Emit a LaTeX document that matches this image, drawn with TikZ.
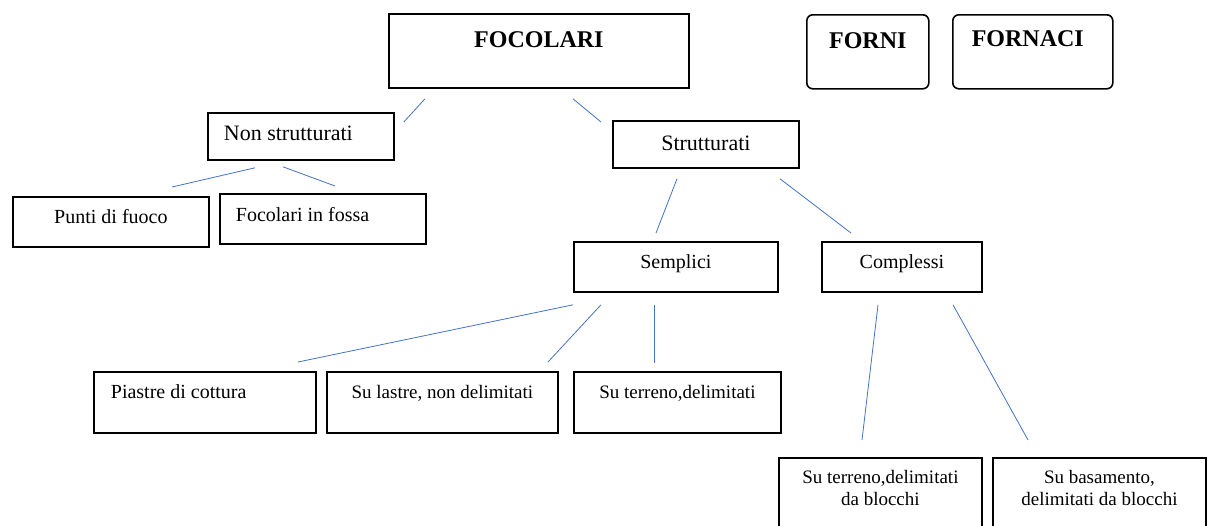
\documentclass[tikz,border=0pt]{standalone}
\usepackage{fontspec}
\setmainfont{Liberation Serif}
\usetikzlibrary{calc}
\definecolor{linkblue}{RGB}{68,114,196}
\tikzset{
  box/.style={draw, line width=1.8pt, inner ysep=0pt, anchor=north west, font=\fontsize{20}{24}\selectfont},
  topbox/.style={box, font=\fontsize{24}{28}\selectfont\bfseries},
  roundbox/.style={topbox, rounded corners=6pt, line width=1.6pt},
  link/.style={draw=linkblue, line width=0.8pt}
}

\begin{document}
\begin{tikzpicture}[x=1pt,y=-1pt]
\clip (0,0) rectangle (1215,525);
\node[topbox, minimum width=300pt, text height=34pt, text depth=40pt] (foc) at (388,13) {FOCOLARI};
\node[roundbox, minimum width=122pt, text height=34pt, text depth=40pt] (forni) at (806,14) {FORNI};
\node[roundbox, inner xsep=19pt, text width=122pt, align=flush left, text height=32pt, text depth=42pt] (fornaci) at (952,14) {FORNACI};
\node[box, font=\fontsize{22}{26}\selectfont, inner xsep=16pt, text width=154pt, align=flush left, text height=28pt, text depth=19pt] (non) at (207,112) {Non strutturati};
\node[box, font=\fontsize{22}{26}\selectfont, minimum width=186pt, text height=30pt, text depth=17pt] (strut) at (612,120) {Strutturati};
\node[box, minimum width=196pt, text height=27pt, text depth=23pt] (punti) at (12,196) {Punti di fuoco};
\node[box, inner xsep=16pt, text width=174pt, align=flush left, text height=28pt, text depth=22pt] (fossa) at (219,193) {Focolari in fossa};
\node[box, minimum width=204pt, text height=27pt, text depth=23pt] (sempl) at (573,241) {Semplici};
\node[box, minimum width=160pt, text height=27pt, text depth=23pt] (compl) at (821,241) {Complessi};
\node[box, inner xsep=17pt, text width=188pt, align=flush left, text height=27pt, text depth=34pt] (piastre) at (93,371) {Piastre di cottura};
\node[box, font=\fontsize{19}{22}\selectfont, minimum width=231pt, text height=27pt, text depth=34pt] (lastre) at (326,371) {Su lastre, non delimitati};
\node[box, font=\fontsize{19}{22}\selectfont, minimum width=207pt, text height=27pt, text depth=34pt] (terr) at (573,371) {Su terreno,delimitati};
\node[box, font=\fontsize{19}{22}\selectfont, minimum width=203pt, text height=26pt, text depth=100pt] (terrb) at (778,457)
  {\begin{tabular}[t]{@{}c@{}}Su terreno,delimitati\\da blocchi\end{tabular}};
\node[box, font=\fontsize{19}{22}\selectfont, minimum width=213pt, text height=26pt, text depth=100pt] (basam) at (992,457)
  {\begin{tabular}[t]{@{}c@{}}Su basamento,\\delimitati da blocchi\end{tabular}};
\draw[link] ([shift={(37,10)}]foc.south west) -- ([shift={(9,10)}]non.north east);
\draw[link] ([shift={(185,10)}]foc.south west) -- ([shift={(-11,2)}]strut.north west);
\draw[link] ([shift={(48,7)}]non.south west) -- ([shift={(160,-9)}]punti.north west);
\draw[link] ([shift={(76,6)}]non.south west) -- ([shift={(116,-7)}]fossa.north west);
\draw[link] ([shift={(65,10)}]strut.south west) -- ([shift={(83,-8)}]sempl.north west);
\draw[link] ([shift={(168,10)}]strut.south west) -- ([shift={(30,-8)}]compl.north west);
\draw[link] ([shift={(0,12)}]sempl.south west) -- ([shift={(205,-9)}]piastre.north west);
\draw[link] ([shift={(28,12)}]sempl.south west) -- ([shift={(222,-9)}]lastre.north west);
\draw[link] ([shift={(81,12)}]sempl.south west) -- ([shift={(81,-8)}]terr.north west);
\draw[link] ([shift={(57,12)}]compl.south west) -- ([shift={(84,-17)}]terrb.north west);
\draw[link] ([shift={(132,12)}]compl.south west) -- ([shift={(36,-17)}]basam.north west);
\end{tikzpicture}
\end{document}
